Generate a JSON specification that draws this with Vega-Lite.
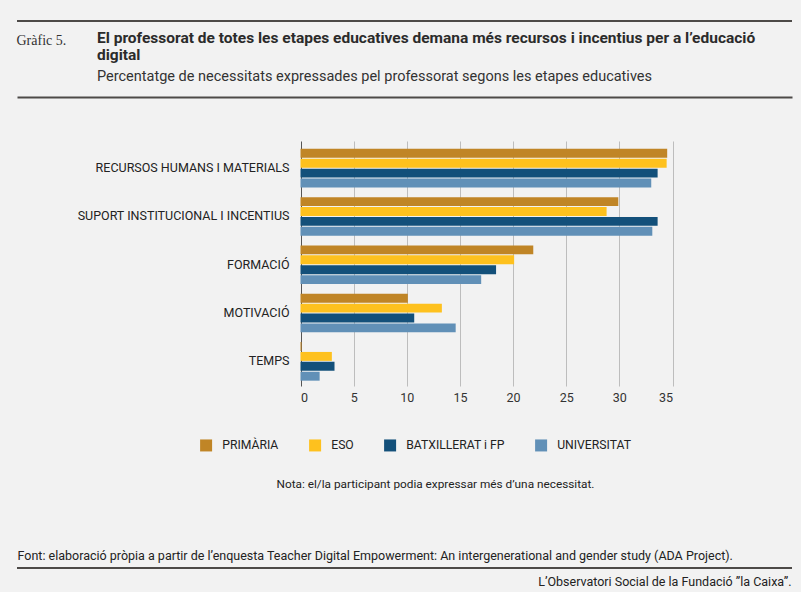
{
  "$schema": "https://vega.github.io/schema/vega-lite/v6.json",
  "autosize": {"type": "none"},
  "width": 775,
  "height": 547,
  "padding": {"left": 17, "top": 21, "right": 9, "bottom": 24},
  "background": "#f2f2f2",
  "config": {
    "font": "Roboto",
    "view": {"stroke": "#4d4a48", "strokeWidth": 2, "strokeDash": [775, 547], "fill": "#f2f2f2"},
    "axis": {"labelFont": "Roboto", "titleFont": "Roboto"}
  },
  "title": {
    "text": ["El professorat de totes les etapes educatives demana més recursos i incentius per a l’educació", "digital"],
    "subtitle": "Percentatge de necessitats expressades pel professorat segons les etapes educatives",
    "anchor": "start",
    "frame": "group",
    "orient": "top",
    "offset": -62,
    "dx": 80,
    "font": "Roboto",
    "fontSize": 15.5,
    "fontWeight": "bold",
    "color": "#2b2b2b",
    "lineHeight": 17,
    "subtitleFont": "Roboto",
    "subtitleFontSize": 14.5,
    "subtitleColor": "#333333",
    "subtitlePadding": 6
  },
  "data": {
    "values": [
      {"necessitat": "RECURSOS HUMANS I MATERIALS", "etapa": "PRIMÀRIA", "pct": 34.5},
      {"necessitat": "RECURSOS HUMANS I MATERIALS", "etapa": "ESO", "pct": 34.45},
      {"necessitat": "RECURSOS HUMANS I MATERIALS", "etapa": "BATXILLERAT i FP", "pct": 33.6},
      {"necessitat": "RECURSOS HUMANS I MATERIALS", "etapa": "UNIVERSITAT", "pct": 33.0},
      {"necessitat": "SUPORT INSTITUCIONAL I INCENTIUS", "etapa": "PRIMÀRIA", "pct": 29.9},
      {"necessitat": "SUPORT INSTITUCIONAL I INCENTIUS", "etapa": "ESO", "pct": 28.8},
      {"necessitat": "SUPORT INSTITUCIONAL I INCENTIUS", "etapa": "BATXILLERAT i FP", "pct": 33.6},
      {"necessitat": "SUPORT INSTITUCIONAL I INCENTIUS", "etapa": "UNIVERSITAT", "pct": 33.1},
      {"necessitat": "FORMACIÓ", "etapa": "PRIMÀRIA", "pct": 21.9},
      {"necessitat": "FORMACIÓ", "etapa": "ESO", "pct": 20.1},
      {"necessitat": "FORMACIÓ", "etapa": "BATXILLERAT i FP", "pct": 18.4},
      {"necessitat": "FORMACIÓ", "etapa": "UNIVERSITAT", "pct": 17.0},
      {"necessitat": "MOTIVACIÓ", "etapa": "PRIMÀRIA", "pct": 10.1},
      {"necessitat": "MOTIVACIÓ", "etapa": "ESO", "pct": 13.3},
      {"necessitat": "MOTIVACIÓ", "etapa": "BATXILLERAT i FP", "pct": 10.7},
      {"necessitat": "MOTIVACIÓ", "etapa": "UNIVERSITAT", "pct": 14.6},
      {"necessitat": "TEMPS", "etapa": "PRIMÀRIA", "pct": 0.1},
      {"necessitat": "TEMPS", "etapa": "ESO", "pct": 2.95},
      {"necessitat": "TEMPS", "etapa": "BATXILLERAT i FP", "pct": 3.2},
      {"necessitat": "TEMPS", "etapa": "UNIVERSITAT", "pct": 1.8}
    ]
  },
  "resolve": {"scale": {"x": "independent"}, "axis": {"x": "independent", "y": "independent"}},
  "layer": [
    {
      "mark": {"type": "bar"},
      "encoding": {
        "y": {
          "field": "necessitat",
          "type": "nominal",
          "sort": null,
          "scale": {"range": [123, 364.5], "paddingInner": 0.2, "paddingOuter": 0.1},
          "axis": {
            "orient": "left",
            "offset": -272,
            "domain": false,
            "ticks": false,
            "labelPadding": 0,
            "labelLimit": 300,
            "labelFontSize": 12.5,
            "labelColor": "#222222",
            "title": "Gràfic 5.",
            "titleFont": "Liberation Serif",
            "titleFontSize": 14,
            "titleFontWeight": "normal",
            "titleColor": "#333333",
            "titleAngle": 0,
            "titleAlign": "left",
            "titleBaseline": "alphabetic",
            "titleX": -273,
            "titleY": 23
          }
        },
        "yOffset": {
          "field": "etapa",
          "type": "nominal",
          "sort": ["PRIMÀRIA", "ESO", "BATXILLERAT i FP", "UNIVERSITAT"],
          "scale": {"paddingInner": 0.1, "paddingOuter": 0}
        },
        "x": {
          "field": "pct",
          "type": "quantitative",
          "scale": {"domain": [0, 35], "range": [283.5, 655.5], "nice": false},
          "axis": {
            "orient": "bottom",
            "offset": -182,
            "values": [0, 5, 10, 15, 20, 25, 30, 35],
            "grid": false,
            "domain": false,
            "tickSize": -245,
            "tickWidth": 1,
            "tickColor": {"condition": {"test": "datum.value === 0", "value": "#555555"}, "value": "#bdbdbd"},
            "labelPadding": 250,
            "labelFontSize": 12.5,
            "labelColor": "#333333",
            "title": "Nota: el/la participant podia expressar més d’una necessitat.",
            "titleFontSize": 11.8,
            "titleFontWeight": "normal",
            "titleColor": "#222222",
            "titleAlign": "center",
            "titleBaseline": "alphabetic",
            "titleX": 418,
            "titleY": 101
          }
        },
        "color": {
          "field": "etapa",
          "type": "nominal",
          "sort": ["PRIMÀRIA", "ESO", "BATXILLERAT i FP", "UNIVERSITAT"],
          "scale": {
            "domain": ["PRIMÀRIA", "ESO", "BATXILLERAT i FP", "UNIVERSITAT"],
            "range": ["#c08526", "#fec11e", "#13507a", "#6190b7"]
          },
          "legend": {
            "orient": "none",
            "legendX": 183,
            "legendY": 418,
            "direction": "horizontal",
            "title": null,
            "symbolType": "square",
            "symbolSize": 144,
            "symbolStrokeWidth": 0,
            "labelFont": "Roboto",
            "labelFontSize": 12.2,
            "labelColor": "#222222",
            "labelOffset": 10,
            "columnPadding": 30
          }
        }
      }
    },
    {
      "mark": {"type": "point", "opacity": 0},
      "encoding": {
        "y": {
          "field": "necessitat",
          "type": "nominal",
          "sort": null,
          "axis": {
            "orient": "right",
            "domain": false,
            "ticks": false,
            "labels": false,
            "title": "L’Observatori Social de la Fundació ”la Caixa”.",
            "titleFontSize": 12.5,
            "titleFontWeight": "normal",
            "titleColor": "#222222",
            "titleAngle": 0,
            "titleAlign": "right",
            "titleBaseline": "alphabetic",
            "titleX": -1,
            "titleY": 564
          }
        },
        "x": {
          "field": "pct",
          "type": "quantitative",
          "axis": {
            "orient": "top",
            "offset": -76,
            "domain": true,
            "domainColor": "#4d4a48",
            "domainWidth": 2,
            "ticks": false,
            "labels": false,
            "grid": false,
            "title": "Font: elaboració pròpia a partir de l’enquesta Teacher Digital Empowerment: An intergenerational and gender study (ADA Project).",
            "titleFontSize": 12.5,
            "titleFontWeight": "normal",
            "titleColor": "#222222",
            "titleAlign": "left",
            "titleBaseline": "alphabetic",
            "titleX": 0,
            "titleY": 462
          }
        }
      }
    }
  ]
}
